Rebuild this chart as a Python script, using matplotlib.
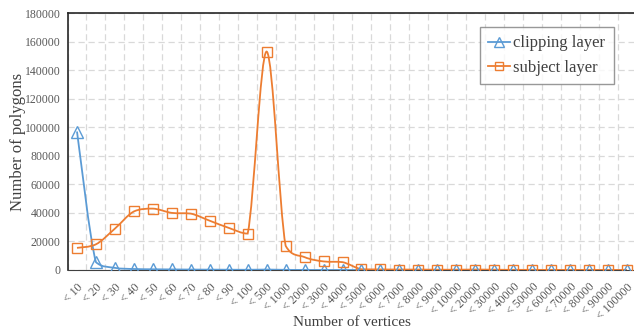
import numpy as np
import matplotlib
matplotlib.use("Agg")
import matplotlib.pyplot as plt
from matplotlib.path import Path
from matplotlib.patches import PathPatch

# 数据
categories = ["10", "20", "30", "40", "50", "60", "70", "80", "90", "100",
              "500", "1000", "2000", "3000", "4000", "5000", "6000", "7000",
              "8000", "9000", "10000", "20000", "30000", "40000", "50000",
              "60000", "70000", "80000", "90000", "100000"]
tick_labels = ["< " + c for c in categories]

clipping = [97000, 5500, 1500, 700, 500, 400, 300, 250, 200, 150,
            300, 100, 50, 30, 20, 10, 5, 5, 5, 5,
            5, 5, 0, 0, 0, 0, 0, 0, 0, 0]
subject = [15500, 18000, 29000, 41000, 43000, 40000, 39500, 34500, 29500, 25500,
           153000, 17000, 9000, 6000, 5500, 500, 400, 300, 300, 200,
           200, 300, 200, 100, 100, 50, 50, 20, 20, 10]

BLUE = "#5B9BD5"
ORANGE = "#ED7D31"

plt.rcParams["font.family"] = ["Liberation Serif", "DejaVu Serif"]


def smooth_path(x, y, t=1.0 / 6):
    """平滑线 (Catmull-Rom -> Bezier)，控制点限制在相邻两点之间，避免过冲"""
    verts = [(x[0], y[0])]
    codes = [Path.MOVETO]
    n = len(x)
    for i in range(n - 1):
        x0, y0 = (x[i - 1], y[i - 1]) if i > 0 else (x[i], y[i])
        x1, y1 = x[i], y[i]
        x2, y2 = x[i + 1], y[i + 1]
        x3, y3 = (x[i + 2], y[i + 2]) if i + 2 < n else (x2, y2)
        lo, hi = min(y1, y2), max(y1, y2)
        c1y = min(max(y1 + (y2 - y0) * t, lo), hi)
        c2y = min(max(y2 - (y3 - y1) * t, lo), hi)
        verts += [(x1 + (x2 - x0) * t, c1y), (x2 - (x3 - x1) * t, c2y), (x2, y2)]
        codes += [Path.CURVE4] * 3
    return Path(verts, codes)


fig = plt.figure(figsize=(6.34, 3.35), dpi=100)
ax = fig.add_axes([67.5 / 634, 65 / 335, 569 / 634, 257 / 335])

xs = np.arange(len(categories))

for vals, col, mk, ms, lab in [(clipping, BLUE, "^", 8, "clipping layer"),
                                (subject, ORANGE, "s", 6.5, "subject layer")]:
    ax.add_patch(PathPatch(smooth_path(xs, vals), fill=False, edgecolor=col, lw=1.3, zorder=3))
    ax.plot(xs, vals, linestyle="none", marker=mk, ms=ms, mfc="none", mec=col, mew=1.0, zorder=4)
    ax.plot([], [], color=col, lw=1.3, marker=mk, ms=ms * 0.9, mfc="none", mec=col, label=lab)

ax.set_xlim(-0.5, len(categories) - 0.5)
ax.set_ylim(0, 180000)
ax.set_yticks(np.arange(0, 180001, 20000))
ax.set_xticks(xs)
ax.set_xticklabels(tick_labels, rotation=45, ha="right", va="top", rotation_mode="anchor")
ax.set_xticks(np.arange(-0.5, len(categories), 1), minor=True)

ax.grid(True, which="major", axis="y", color="#D9D9D9", linestyle=(0, (5, 3)), lw=0.9)
ax.grid(True, which="minor", axis="x", color="#D9D9D9", linestyle=(0, (5, 3)), lw=0.9)
ax.set_axisbelow(True)

ax.tick_params(axis="both", which="both", length=0, colors="#595959", labelsize=8.5)
ax.tick_params(axis="x", pad=8)
ax.tick_params(axis="y", pad=5)

for s in ["left", "top"]:
    ax.spines[s].set_color("#262626")
    ax.spines[s].set_linewidth(1.2)
ax.spines["bottom"].set_color("#404040")
ax.spines["right"].set_visible(False)

ax.set_ylabel("Number of polygons", fontsize=12, color="#404040", va="center")
ax.yaxis.set_label_coords(-0.087, 0.5)
ax.set_xlabel("Number of vertices", fontsize=11, color="#404040", va="center")
ax.xaxis.set_label_coords(0.5, -0.205)

leg = ax.legend(loc="upper right", bbox_to_anchor=(0.96, 0.945), borderaxespad=0,
                fontsize=12, frameon=True, fancybox=False, edgecolor="#7F7F7F",
                handlelength=1.3, handletextpad=0.2, borderpad=0.5, labelspacing=0.5)
leg.get_frame().set_linewidth(1.0)
for t in leg.get_texts():
    t.set_color("#404040")

fig.savefig("out.png", dpi=100)
